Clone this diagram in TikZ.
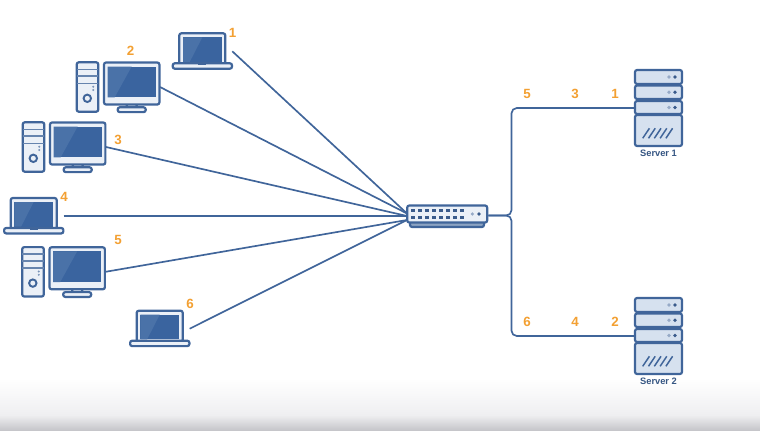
\documentclass[tikz,border=0pt]{standalone}
\usepackage{fontspec}
\setmainfont{Liberation Sans}
\definecolor{wire}{HTML}{40659A}
\definecolor{panel}{HTML}{EBF0F7}
\definecolor{rack}{HTML}{D6E1EF}
\definecolor{glass}{HTML}{3A649F}
\definecolor{glare}{HTML}{4A72A8}
\definecolor{amber}{HTML}{F3A032}
\definecolor{fadegray}{HTML}{EFEFF1}
\definecolor{edgegray}{HTML}{C6C6CA}

\begin{document}
\begin{tikzpicture}
  [x=0.02cm,y=-0.02cm,
  link/.style={draw=wire,line width=0.95pt},
  casing/.style={draw=wire,line width=1.25pt,fill=panel,rounded corners=1.2pt},
  rackbox/.style={casing,fill=rack},
  hairline/.style={draw=wire!80,line width=0.8pt},
  tag/.style={text=amber,font=\bfseries\fontsize{7.6}{8}\selectfont,inner sep=0pt},
  caption/.style={text=wire!85!black,font=\bfseries\fontsize{5.3}{6}\selectfont,inner sep=0pt},
  switchbox/.style={casing,minimum width=1.6cm,minimum height=0.34cm,inner sep=0pt},
  pics/desktop/.style={code={
    \draw[casing] (-55,-21.2) rectangle (-33.4,28.2);
    \draw[hairline] (-55,-14.2) -- (-33.4,-14.2) (-55,-7.5) -- (-33.4,-7.5) (-55,-0.2) -- (-33.4,-0.2);
    \draw[wire,line width=1.1pt] (-44.4,14.8) circle (3.7);
    \fill[wire!70] (-38.4,3.2) circle (1.1) (-38.4,6.5) circle (1.1);
    \draw[casing] (-5,20) rectangle (5,25);
    \draw[casing] (-14,23.8) rectangle (14,28.6);
    \draw[casing] (-27.7,-21) rectangle (27.7,21);
    \fill[glass] (-24,-17) rectangle (24,13.8);
    \fill[glare] (-24,-17) -- (0,-17) -- (-17,13.8) -- (-24,13.8) -- cycle;
    \coordinate (-port) at (28.3,3.5);
  }},
  pics/laptop/.style={code={
    \draw[casing] (-23,-15) rectangle (23,16);
    \fill[glass] (-19.3,-11) rectangle (19.3,13.7);
    \fill[glare] (-19.3,-11) -- (0,-11) -- (-12.6,13.7) -- (-19.3,13.7) -- cycle;
    \draw[casing] (-29.6,15) rectangle (29.7,20.4);
    \fill[wire] (-4,15) rectangle (4,16.5);
    \coordinate (-port) at (30,3);
  }},
  pics/server/.style={code={
    \foreach \top/\bot in {0/14,15.5/29,31/44} {
      \draw[rackbox] (-23.5,\top) rectangle (23.5,\bot);
      \fill[wire!55] (10.5,{(\top+\bot)/2}) circle (1.8);
      \fill[wire!90!black] (16.5,{(\top+\bot)/2}) circle (1.8);
    }
    \draw[rackbox] (-23.5,45) rectangle (23.5,76);
    \foreach \i in {0,...,4}
      \draw[wire,line width=0.85pt] ({-15.8+5.8*\i},68.3) -- ({-9.1+5.8*\i},58.3);
    \node[caption] (-name) at (0,83) {#1};
    \coordinate (-port) at (-23.5,38);
  }}]

  \useasboundingbox (0,0) rectangle (760,430);
  \fill[white] (0,0) rectangle (760,430);
  \shade[top color=white,bottom color=fadegray] (0,378) rectangle (760,415);
  \shade[top color=fadegray,bottom color=edgegray] (0,415) rectangle (760,430);

  \pic (lap1) at (202.3,48.3) {laptop};
  \pic (pc2) at (131.7,83.5) {desktop};
  \pic (pc3) at (77.7,143.5) {desktop};
  \pic (lap4) at (33.7,213) {laptop};
  \pic (pc5) at (77.2,268.3) {desktop};
  \pic (lap6) at (159.7,325.7) {laptop};
  \pic (srv1) at (658.5,70) {server=Server 1};
  \pic (srv2) at (658.5,298) {server=Server 2};

  % switch and its ports
  \draw[casing,fill=wire!60] (410,220) rectangle (484,227);
  \node [switchbox] (switch) at (447.2,214) {};
  \foreach \col in {0,...,7}
    \foreach \row in {210.3,217.7}
      \fill[wire!90!black] ({410.8+7*\col},\row-1.7) rectangle ({414.8+7*\col},\row+1.7);
  \fill[wire!55] (472.3,214) circle (1.8);
  \fill[wire!90!black] (479,214) circle (1.8);

  \coordinate (hub up) at (407,213.5);
  \coordinate (hub mid) at (407,216);
  \coordinate (hub low) at (407,220);
  \coordinate (split) at (511.5,215.5);

  \draw[link] (lap1-port) -- (hub up);
  \draw[link] (pc2-port) -- (hub up);
  \draw[link] (pc3-port) -- (hub mid);
  \draw[link] (lap4-port) -- (hub mid);
  \draw[link] (pc5-port) -- (hub low);
  \draw[link] (lap6-port) -- (hub low);

  \draw[link,rounded corners=3pt] (switch.east |- split) -- (split) |- (srv1-port);
  \draw[link,rounded corners=3pt] (switch.east |- split) -- (split) |- (srv2-port);

  \foreach \txt/\px/\py [count=\n] in {1/232.5/32.7,2/130.5/50.5,3/118/140,4/64/197,5/118/239.5,6/190/303.5,
    5/527/94,3/575/94,1/615/94,6/527/322,4/575/322,2/615/322}
    \node[tag] (num\n) at (\px,\py) {\txt};
\end{tikzpicture}
\end{document}
